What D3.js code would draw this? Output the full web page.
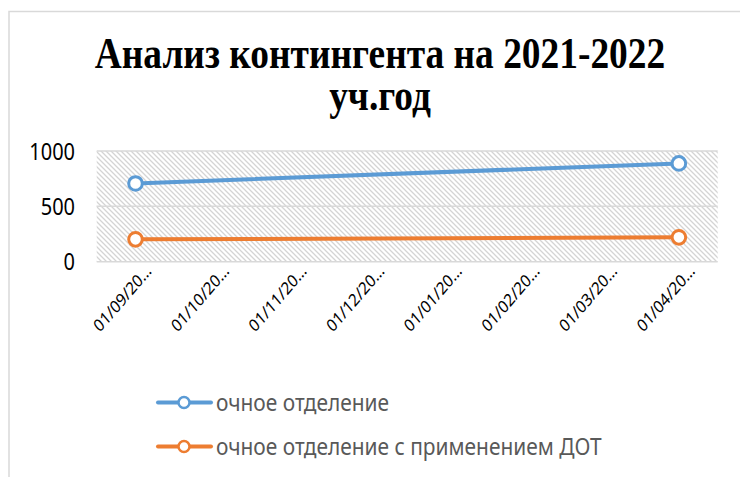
<!DOCTYPE html>
<html>
<head>
<meta charset="utf-8">
<script src="https://cdn.jsdelivr.net/npm/d3@7"></script>
<style>
  body { margin: 0; background: #fff; }
  svg { display: block; }
</style>
</head>
<body>
<svg id="chart" width="740" height="477"></svg>
<script>
// data
var categories = ["01/09/20…", "01/10/20…", "01/11/20…", "01/12/20…", "01/01/20…", "01/02/20…", "01/03/20…", "01/04/20…"];
var seriesNames = ["очное отделение", "очное отделение с применением ДОТ"];
var fullTime = [707, 888];      // at first and last category
var fullTimeDot = [202, 220];
var pointIdx = [0, 7];
var yTicks = [0, 500, 1000];
var titleLines = ["Анализ контингента на 2021-2022", "уч.год"];
var colors = ["#5b9bd5", "#ed7d31"];

var svg = d3.select("#chart");
var stretch = 1.16;   // the picture text is a bit taller than wide

// pattern for plot area
var defs = svg.append("defs");
var pat = defs.append("pattern")
    .attr("id", "hatch")
    .attr("patternUnits", "userSpaceOnUse")
    .attr("width", 5).attr("height", 5);
pat.append("path")
    .attr("d", "M-1,-1 L6,6 M-1,4 L1,6 M4,-1 L6,1")
    .attr("stroke", "#d4d4d4").attr("stroke-width", 1.3);

// chart border
svg.append("rect")
    .attr("x", 9).attr("y", 11.5)
    .attr("width", 800).attr("height", 500)
    .attr("fill", "none").attr("stroke", "#d9d9d9").attr("stroke-width", 1.5);

var plotL = 96.7, plotR = 717.7, plotT = 151, plotB = 261.7;

var x = d3.scaleBand().domain(d3.range(categories.length)).range([plotL, plotR]);
var y = d3.scaleLinear().domain([0, 1000]).range([plotB, plotT]);

function stext(sel, tx, ty, extra) {
    return sel.attr("transform", "translate(" + tx + "," + ty + ") scale(1," + stretch + ")" + (extra || ""));
}

// title, one text with two lines
var title = svg.append("text")
    .attr("font-family", "'Liberation Serif', 'Times New Roman', serif")
    .attr("font-weight", "bold")
    .attr("font-size", 37.4)
    .attr("text-anchor", "middle")
    .attr("fill", "#000");
stext(title, 380, 68);
title.selectAll("tspan")
    .data(titleLines).enter().append("tspan")
    .attr("x", 0)
    .attr("y", (d, i) => i * 36.2)
    .text(d => d);

// plot background
svg.append("rect")
    .attr("x", plotL).attr("y", plotT)
    .attr("width", plotR - plotL).attr("height", plotB - plotT)
    .attr("fill", "url(#hatch)");

// gridlines
svg.append("g").selectAll("line")
    .data(yTicks).enter().append("line")
    .attr("x1", plotL).attr("x2", plotR)
    .attr("y1", d => y(d)).attr("y2", d => y(d))
    .attr("stroke", "#d9d9d9").attr("stroke-width", 1.5);

// y labels
var yl = svg.append("g")
    .attr("font-family", "'Noto Sans', sans-serif")
    .attr("font-size", 20)
    .attr("text-anchor", "end")
    .attr("fill", "#000");
yTicks.forEach(function(t) {
    stext(yl.append("text").text(t), 75, y(t) + 8.5);
});

// x labels
var xl = svg.append("g")
    .attr("font-family", "'Noto Sans', sans-serif")
    .attr("font-size", 15)
    .attr("text-anchor", "end")
    .attr("fill", "#000");
categories.forEach(function(c, i) {
    stext(xl.append("text").text(c), x(i) + x.bandwidth() / 2 + 17, 272, " rotate(-45)");
});

// series
var series = [fullTime, fullTimeDot];
var line = d3.line()
    .x((d, i) => x(pointIdx[i]) + x.bandwidth() / 2)
    .y(d => y(d));

series.forEach(function(vals, s) {
    svg.append("path")
        .attr("d", line(vals))
        .attr("fill", "none")
        .attr("stroke", colors[s])
        .attr("stroke-width", 4)
        .attr("stroke-linecap", "round");
    svg.append("g").selectAll("circle")
        .data(vals).enter().append("circle")
        .attr("cx", (d, i) => x(pointIdx[i]) + x.bandwidth() / 2)
        .attr("cy", d => y(d))
        .attr("r", 6.8)
        .attr("fill", "#fff")
        .attr("stroke", colors[s])
        .attr("stroke-width", 3);
});

// legend
var leg = svg.append("g");
seriesNames.forEach(function(name, s) {
    var ly = 402.5 + s * 44;
    leg.append("line")
        .attr("x1", 158).attr("x2", 211)
        .attr("y1", ly).attr("y2", ly)
        .attr("stroke", colors[s]).attr("stroke-width", 4)
        .attr("stroke-linecap", "round");
    leg.append("circle")
        .attr("cx", 184).attr("cy", ly).attr("r", 5.5)
        .attr("fill", "#fff").attr("stroke", colors[s]).attr("stroke-width", 2.5);
    stext(leg.append("text")
        .attr("font-family", "'Noto Sans', sans-serif")
        .attr("font-size", 20.9)
        .attr("fill", "#595959")
        .text(name), 216, ly + 8);
});
</script>
</body>
</html>
